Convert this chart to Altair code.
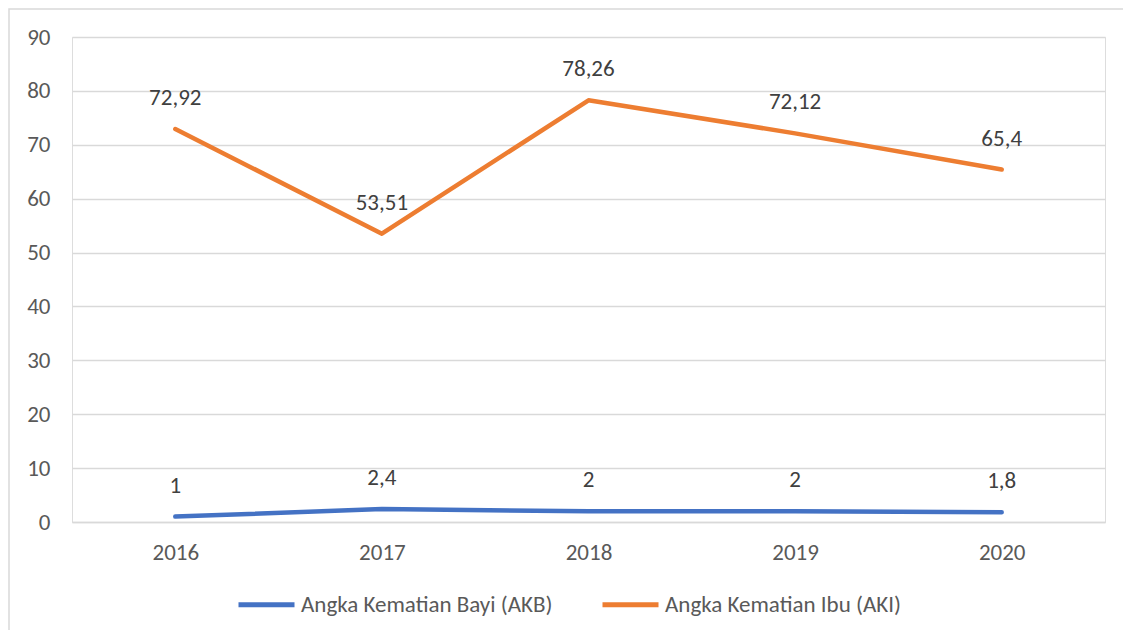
import altair as alt
import pandas as pd

years = ["2016", "2017", "2018", "2019", "2020"]
akb = [1, 2.4, 2, 2, 1.8]
aki = [72.92, 53.51, 78.26, 72.12, 65.4]
series_names = ["Angka Kematian Bayi (AKB)", "Angka Kematian Ibu (AKI)"]
colors = ["#4472C4", "#ED7D31"]

rows = []
for name, vals in zip(series_names, [akb, aki]):
    for y, v in zip(years, vals):
        rows.append({"Tahun": y, "Nilai": v, "Seri": name,
                     "Label": ("%g" % v).replace(".", ",")})
df = pd.DataFrame(rows)

FONT = "Carlito, Open Sans"
TXT = "#595959"
FS = 23

base = alt.Chart(df)

x = alt.X("Tahun:N", sort=years, title=None,
          scale=alt.Scale(padding=0.5),
          axis=alt.Axis(labelAngle=0, ticks=False, domain=True, domainColor="#d9d9d9",
                        domainWidth=1.5, labelPadding=19, labelFontSize=FS,
                        labelColor=TXT, labelFont=FONT, grid=False))
y = alt.Y("Nilai:Q", title=None,
          scale=alt.Scale(domain=[0, 90], nice=False),
          axis=alt.Axis(values=list(range(0, 91, 10)), ticks=False, domain=False,
                        gridColor="#d9d9d9", gridWidth=1.5, labelPadding=22,
                        labelFontSize=FS, labelColor=TXT, labelFont=FONT))
color = alt.Color("Seri:N", sort=series_names,
                  scale=alt.Scale(domain=series_names, range=colors),
                  legend=alt.Legend(title=None, orient="none", direction="horizontal",
                                    legendX=164, legendY=537,
                                    symbolType="stroke", symbolSize=3136,
                                    symbolStrokeWidth=5, labelFontSize=FS,
                                    labelFont=FONT, labelColor=TXT, labelOffset=4,
                                    labelLimit=500, columnPadding=39, symbolOffset=0))

lines = base.mark_line(strokeWidth=4.5, strokeCap="round", strokeJoin="round").encode(
    x=x, y=y, color=color)

labels = base.mark_text(dy=-31, fontSize=FS, font=FONT, color="#404040").encode(
    x=alt.X("Tahun:N", sort=years), y="Nilai:Q", text="Label:N")

frame = alt.Chart(pd.DataFrame({"a": [0]})).mark_rect(
    fill="transparent", stroke="#d9d9d9", strokeWidth=1.5).encode(
    x=alt.value(-63), y=alt.value(-28), x2=alt.value(1300), y2=alt.value(800))

chart = alt.layer(frame, lines, labels).properties(
    width=1033, height=485,
    autosize=alt.AutoSizeParams(type="none"),
    padding={"left": 64, "top": 29, "right": 18, "bottom": 108},
).configure_view(stroke=None).configure(background="white")

chart.save("out.html", embed_options={"renderer": "svg", "actions": False})
